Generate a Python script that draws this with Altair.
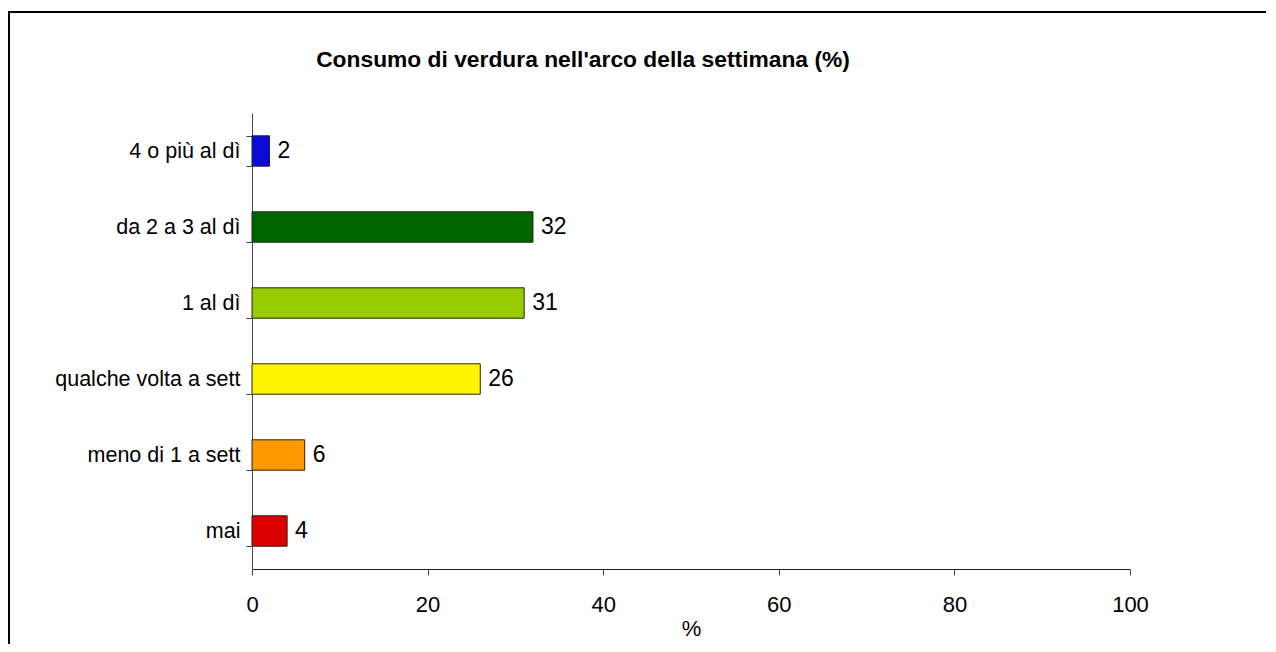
import altair as alt
import pandas as pd

categories = ["4 o più al dì", "da 2 a 3 al dì", "1 al dì", "qualche volta a sett", "meno di 1 a sett", "mai"]
values = [2, 32, 31, 26, 6, 4]
colors = ["#0A0AD8", "#006600", "#99CC00", "#FFF500", "#FF9900", "#DD0000"]
title_text = "Consumo di verdura nell'arco della settimana (%)"

df = pd.DataFrame({"cat": categories, "val": values, "col": colors})

FONT = "Liberation Sans"
W, H = 878, 456

y_enc = alt.Y("cat:N", sort=categories, title=None,
              scale=alt.Scale(paddingInner=0.6, paddingOuter=0.3),
              axis=alt.Axis(tickBand="extent", labelFontSize=21.5, labelFont=FONT,
                            labelColor="black", domainColor="#444", tickColor="#444",
                            tickSize=6, labelPadding=6, labelLimit=400, grid=False))
x_enc = alt.X("val:Q", title="%", scale=alt.Scale(domain=[0, 100]),
              axis=alt.Axis(values=[0, 20, 40, 60, 80, 100], labelFontSize=22, labelFont=FONT,
                            labelColor="black", labelFlush=False, titleFontSize=22, titleFont=FONT,
                            titleFontWeight="normal", titleColor="black",
                            domainColor="#222", tickColor="#444", tickSize=6,
                            labelPadding=19, titlePadding=3, grid=False))

bars = alt.Chart(df).mark_bar(stroke="#222", strokeWidth=1).encode(
    x=x_enc, y=y_enc, fill=alt.Fill("col:N", scale=None))

labels = alt.Chart(df).mark_text(align="left", baseline="middle", dx=8,
                                 fontSize=23, font=FONT, color="black").encode(
    x="val:Q", y=alt.Y("cat:N", sort=categories), text="val:Q")

frame_top = alt.Chart(df.head(1)).mark_rule(stroke="black", strokeWidth=2).encode(
    x=alt.value(-244), x2=alt.value(1016), y=alt.value(-101))
frame_left = alt.Chart(df.head(1)).mark_rule(stroke="black", strokeWidth=2).encode(
    x=alt.value(-243), y=alt.value(-102), y2=alt.value(535))

title = alt.Chart(pd.DataFrame({"t": [title_text]})).mark_text(
    align="center", baseline="middle", font=FONT, fontSize=22.8, fontWeight="bold",
    color="black").encode(text="t:N", x=alt.value(331), y=alt.value(-53))

chart = alt.layer(frame_top, frame_left, bars, labels, title).properties(
    width=W, height=H,
    background="white",
    autosize=alt.AutoSizeParams(type="none"),
    padding={"left": 244, "top": 105, "right": 136, "bottom": 75},
).configure_view(stroke=None)

chart.save("out.html", embed_options={"renderer": "svg", "actions": False})
